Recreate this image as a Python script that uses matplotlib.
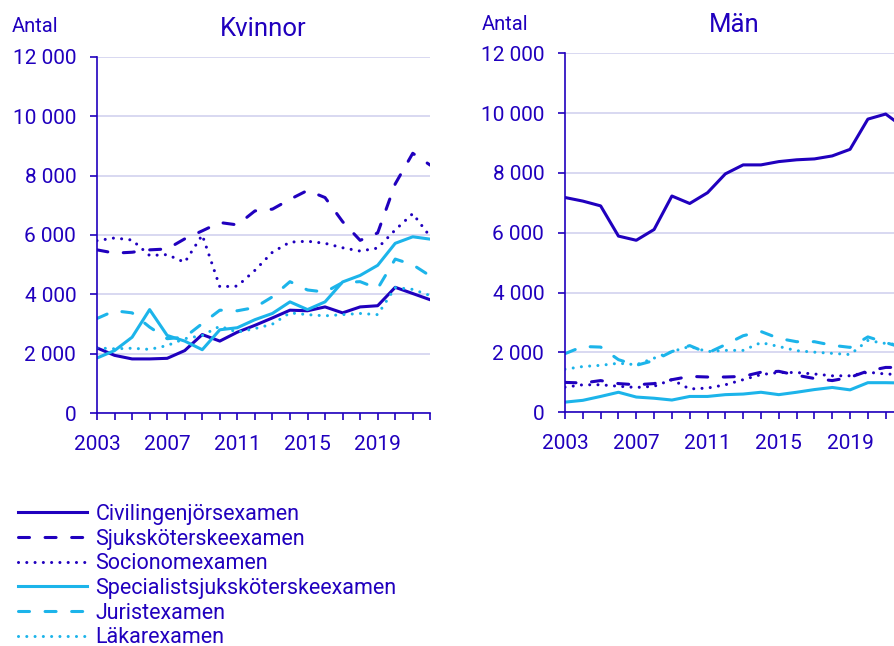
import matplotlib
matplotlib.use("Agg")
import matplotlib.pyplot as plt
from matplotlib.lines import Line2D

plt.rcParams["font.family"] = ["Roboto", "DejaVu Sans"]

DARK = "#2000BE"
LIGHT = "#1CB4EA"
GRID = "#D6D6F0"

years = list(range(2003, 2023))

labels = [
    "Civilingenjörsexamen",
    "Sjuksköterskeexamen",
    "Socionomexamen",
    "Specialistsjuksköterskeexamen",
    "Juristexamen",
    "Läkarexamen",
]

# Kvinnor
civ_k = [2200, 1950, 1830, 1830, 1850, 2110, 2650, 2430, 2730, 2960, 3210, 3470, 3450, 3580, 3380, 3580, 3620, 4240, 4030, 3820]
sjuk_k = [5500, 5390, 5420, 5500, 5530, 5870, 6140, 6420, 6340, 6810, 6870, 7200, 7500, 7260, 6450, 5820, 6070, 7720, 8750, 8350]
soc_k = [5810, 5900, 5830, 5310, 5340, 5080, 6000, 4260, 4280, 4810, 5420, 5760, 5790, 5720, 5570, 5460, 5560, 6170, 6720, 5940]
spec_k = [1860, 2110, 2560, 3490, 2620, 2430, 2140, 2810, 2880, 3150, 3360, 3750, 3490, 3750, 4420, 4640, 4980, 5720, 5940, 5860]
jur_k = [3190, 3450, 3380, 2900, 2510, 2560, 3020, 3470, 3450, 3560, 3920, 4430, 4150, 4080, 4400, 4430, 4200, 5190, 5000, 4620]
lak_k = [2200, 2170, 2190, 2150, 2280, 2510, 2620, 2930, 2730, 2850, 3000, 3380, 3320, 3280, 3320, 3360, 3320, 4230, 4170, 3960]

# Män
civ_m = [7180, 7060, 6900, 5890, 5750, 6110, 7230, 6980, 7340, 7970, 8270, 8270, 8380, 8440, 8470, 8570, 8790, 9800, 9970, 9530]
sjuk_m = [1000, 980, 1060, 960, 920, 960, 1090, 1200, 1180, 1180, 1200, 1340, 1370, 1240, 1130, 1060, 1170, 1380, 1500, 1500]
soc_m = [840, 920, 920, 870, 830, 870, 1090, 780, 810, 920, 1090, 1260, 1330, 1330, 1280, 1220, 1220, 1340, 1280, 1260]
spec_m = [340, 400, 530, 670, 510, 470, 410, 530, 530, 590, 610, 670, 590, 670, 760, 830, 750, 990, 990, 980]
jur_m = [1960, 2200, 2180, 1760, 1570, 1730, 2030, 2230, 1980, 2260, 2560, 2700, 2470, 2360, 2360, 2240, 2170, 2520, 2330, 2150]
lak_m = [1440, 1530, 1570, 1640, 1590, 1810, 2030, 2200, 2030, 2070, 2070, 2330, 2200, 2060, 2010, 1970, 1930, 2400, 2300, 2250]

kvinnor = [civ_k, sjuk_k, soc_k, spec_k, jur_k, lak_k]
man = [civ_m, sjuk_m, soc_m, spec_m, jur_m, lak_m]

colors = [DARK, DARK, DARK, LIGHT, LIGHT, LIGHT]
styles = ["-", (0, (3.6, 5.1)), (0, (0.01, 2.7)), "-", (0, (3.6, 5.1)), (0, (0.01, 2.7))]
LW = 2.2


def style_axes(ax, title):
    ax.set_xlim(2003, 2022)
    ax.set_ylim(0, 12000)
    ax.set_yticks(range(0, 12001, 2000))
    ax.set_yticklabels([f"{v:,}".replace(",", " ") for v in range(0, 12001, 2000)])
    ax.set_xticks(years)
    ax.set_xticklabels([str(y) if (y - 2003) % 4 == 0 else "" for y in years])
    for s in ["top", "right"]:
        ax.spines[s].set_visible(False)
    for s in ["left", "bottom"]:
        ax.spines[s].set_color(DARK)
        ax.spines[s].set_linewidth(1.2)
    ax.grid(axis="y", color=GRID, lw=1.3)
    ax.set_axisbelow(True)
    ax.tick_params(axis="both", colors=DARK, labelcolor=DARK, length=5, width=1.2, labelsize=15)
    ax.tick_params(axis="x", pad=10.5)
    ax.tick_params(axis="y", pad=10)
    ax.set_title(title, color=DARK, fontsize=18.5, pad=15)


fig = plt.figure(figsize=(8.95, 6.46), dpi=100)
ax1 = fig.add_axes([97 / 895, 1 - 413.3 / 646, 333.3 / 895, 356.6 / 646])
ax2 = fig.add_axes([565 / 895, 1 - 412.3 / 646, 338.5 / 895, 359 / 646])

for ax, data, title in [(ax1, kvinnor, "Kvinnor"), (ax2, man, "Män")]:
    for vals, c, ls in zip(data, colors, styles):
        ax.plot(years, vals, color=c, linestyle=ls, lw=LW,
                dash_capstyle="round", solid_joinstyle="round")
    style_axes(ax, title)

fig.text(12 / 895, 1 - 32 / 646, "Antal", color=DARK, fontsize=14.5, va="baseline")
fig.text(482 / 895, 1 - 30 / 646, "Antal", color=DARK, fontsize=14.5, va="baseline")

handles = [Line2D([], [], color=c, linestyle=ls, lw=LW, dash_capstyle="round")
           for c, ls in zip(colors, styles)]
fig.legend(handles, labels, loc="upper left", bbox_to_anchor=(18 / 895, 1 - 504 / 646),
           frameon=False, fontsize=15.5, labelcolor=DARK, handlelength=3.2,
           handletextpad=0.4, labelspacing=0.17, borderpad=0, borderaxespad=0)

fig.savefig("out.png", dpi=100)
